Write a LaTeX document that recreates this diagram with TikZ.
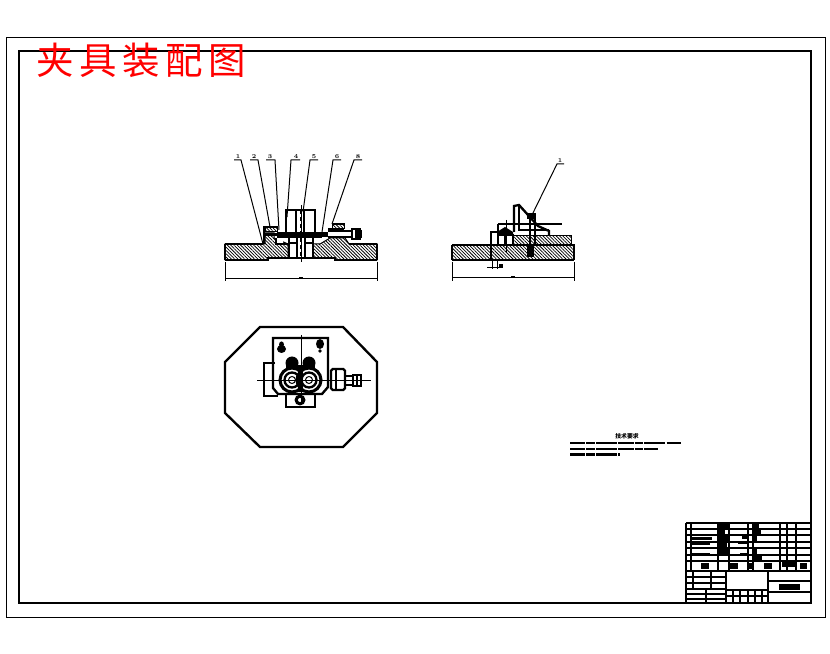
\documentclass[tikz,border=0pt]{standalone}
\usepackage{fontspec}
\newfontfamily\cjkfont{Noto Sans CJK SC}
\usetikzlibrary{patterns.meta}
\tikzset{
	thinline/.style={line width=0.85pt},
	heavyline/.style={line width=2pt},
	hatchfill/.style={pattern={Lines[angle=-45,distance=2pt,line width=0.65pt]}},
	partlabel/.style={font=\bfseries\fontsize{5}{5}\selectfont,inner sep=0.4pt,text=black},
	blurbar/.style={fill=black,draw=none},
	blurline/.style={line width=2.4pt,dash pattern=on 13pt off 1pt on 7pt off 1.2pt on 18pt off 1pt}
}
\begin{document}
\begin{tikzpicture}[x=0.03cm,y=-0.03cm]
	\useasboundingbox (0,0) rectangle (830,654);
	\fill[white] (0,0) rectangle (830,654);
	
	%%%%% FRAME %%%%%
	\draw[thinline] (6,38) rectangle (825,617);
	\draw[heavyline] (19,51) rectangle (811,603);
	\node[text=red,font=\cjkfont\fontsize{32}{32}\selectfont] (title) at (141,60) {\addfontfeature{LetterSpace=15}夹具装配图};
	
	%%%%% FRONT VIEW %%%%%
	\draw[thinline,hatchfill] (225,244) -- (265,244) -- (265,233) -- (274,233) -- (274,238) -- (288,244) -- (288,258) -- (268,258) -- (268,260) -- (225,260) -- cycle;
	\draw[thinline,hatchfill] (313,244) -- (320,244) -- (330,238) -- (345,238) -- (349,244) -- (377,244) -- (377,260) -- (335,260) -- (335,258) -- (313,258) -- cycle;
	\draw[heavyline] (225,244) -- (263,244);
	\draw[heavyline] (349,244) -- (377,244);
	\draw[heavyline] (225,244) -- (225,260);
	\draw[heavyline] (377,244) -- (377,260);
	\draw[heavyline] (225,260) -- (268,260) -- (268,258) -- (335,258) -- (335,260) -- (377,260);
	\draw[heavyline] (264,244) -- (264,227) -- (278,227);
	\fill[white] (276,238) rectangle (283,245);
	\draw[heavyline] (276,238) -- (276,244) -- (288,244);
	\draw[heavyline] (286,232) -- (286,210) -- (315,210) -- (315,232);
	\draw[heavyline] (296,210) -- (296,232);
	\draw[heavyline] (304,210) -- (304,232);
	\draw[thinline,dashed] (300,210) -- (300,258);
	\fill (277,232) rectangle (322,238);
	\fill (264,233) rectangle (278,236);
	\draw[thinline,hatchfill] (265,227) rectangle (277,232);
	\draw[heavyline] (289,238) -- (289,258);
	\draw[heavyline] (297,236) -- (297,258);
	\draw[heavyline] (305,236) -- (305,258);
	\draw[heavyline] (313,238) -- (313,258);
	\fill[white] (291,238) rectangle (295,243);
	\fill[white] (307,238) rectangle (311,243);
	\draw[heavyline] (288,243) -- (297,243);
	\draw[heavyline] (305,243) -- (313,243);
	\draw[thinline,hatchfill] (332,224) rectangle (344,229);
	\draw[heavyline] (332,224) -- (344,224);
	\draw[heavyline] (328,229) -- (344,229);
	\fill (322,232) rectangle (328,237);
	\draw[heavyline] (328,231) -- (352,231);
	\draw[heavyline] (328,237) -- (352,237);
	\draw[heavyline] (352,229) rectangle (360,239);
	\fill (355,230) rectangle (362,238);
	\draw[thinline] (301,205) -- (301,262);
	
	\draw[thinline] (225,262) -- (225,281);
	\draw[thinline] (377,262) -- (377,281);
	\draw[thinline] (225,279) -- (377,279);
	\fill[blurbar] (299,277) rectangle (303,279);
	
	\node[partlabel] (lab1) at (238,157) {1};
	\node[partlabel] (lab2) at (254,157) {2};
	\node[partlabel] (lab3) at (270,157) {3};
	\node[partlabel] (lab4) at (296,157) {4};
	\node[partlabel] (lab5) at (314,157) {5};
	\node[partlabel] (lab6) at (337,157) {6};
	\node[partlabel] (lab7) at (358,157) {8};
	\coordinate (tip1) at (263,244);
	\coordinate (tip2) at (270,227);
	\coordinate (tip3) at (279,230);
	\coordinate (tip4) at (287,217);
	\coordinate (tip5) at (303,212);
	\coordinate (tip6) at (322,232);
	\coordinate (tip7) at (332,224);
	\draw[thinline] (234,160) -- (241,160) -- (tip1);
	\draw[thinline] (250,160) -- (258,160) -- (tip2);
	\draw[thinline] (266,160) -- (275,160) -- (tip3);
	\draw[thinline] (300,160) -- (291,160) -- (tip4);
	\draw[thinline] (318,160) -- (310,160) -- (tip5);
	\draw[thinline] (341,160) -- (333,160) -- (tip6);
	\draw[thinline] (362,160) -- (354,160) -- (tip7);
	
	%%%%% SIDE VIEW %%%%%
	\draw[thinline,hatchfill] (452,245) rectangle (574,260);
	\draw[thinline,hatchfill] (513,236) rectangle (571,245);
	\draw[heavyline] (452,245) -- (574,245);
	\draw[heavyline] (452,260) -- (574,260);
	\draw[heavyline] (452,245) -- (452,260);
	\draw[heavyline] (574,245) -- (574,260);
	\draw[heavyline] (498,224) -- (562,224);
	\draw[heavyline] (498,224) -- (498,245);
	\draw[heavyline] (514,232) -- (514,206) -- (519,205) -- (538,226) -- (549,231) -- (549,236);
	\draw[heavyline] (519,205) -- (519,230) -- (549,230);
	\fill (497,232) -- (505,227) -- (513,232) -- (513,235) -- (497,235) -- cycle;
	\draw[heavyline] (498,235) rectangle (513,245);
	\draw[heavyline] (505,235) -- (505,245);
	\draw[heavyline] (530,214) -- (530,245);
	\draw[heavyline] (535,219) -- (535,245);
	\fill (527,245) rectangle (534,257);
	\fill (527,213) rectangle (536,219);
	\draw[heavyline] (497,232) -- (491,232) -- (491,260);
	\draw[thinline] (492,260) -- (492,269);
	\draw[thinline] (497,260) -- (497,269);
	\draw[thinline] (487,268) -- (502,268);
	\fill (499,264) rectangle (503,268);
	\draw[thinline] (506,220) -- (506,252);
	
	\draw[thinline] (452,262) -- (452,281);
	\draw[thinline] (574,262) -- (574,281);
	\draw[thinline] (452,278) -- (574,278);
	\fill[blurbar] (511,276) rectangle (515,278);
	
	\node[partlabel] (lab8) at (560,161) {1};
	\coordinate (tip8) at (531,217);
	\draw[thinline] (564,164) -- (557,164) -- (tip8);
	
	%%%%% PLAN VIEW %%%%%
	\draw[heavyline] (260,327) -- (343,327) -- (377,362) -- (377,413) -- (343,447) -- (260,447) -- (225,413) -- (225,362) -- cycle;
	\draw[heavyline] (273,338) -- (328,338) -- (328,387) -- (322,394) -- (278,394) -- (273,388) -- cycle;
	\draw[heavyline] (275,363) -- (264,363) -- (264,396) -- (278,396);
	\draw[heavyline] (286,394) -- (286,407) -- (315,407) -- (315,394);
	\fill (300,400) circle (5.5);
	\fill[white] (300,400) circle (2);
	\fill (281.5,349) ellipse (4.5 and 4);
	\fill (281.5,344.5) ellipse (2.5 and 3);
	\fill (320,344) ellipse (4 and 5);
	\fill (320,351) circle (1.8);
	\fill (292,363) circle (6.5);
	\fill (309,363) circle (6.5);
	\fill (286,365) rectangle (315,371);
	\foreach \cx in {292,309} {
		\draw[line width=2.6pt,fill=white] (\cx,380) circle (12);
		\draw[heavyline] (\cx,380) circle (7.5);
		\draw[thinline] (\cx,380) circle (3.5);
	}
	\fill (298,368) rectangle (303,392);
	\draw[heavyline,rounded corners=1.5pt] (331,369) rectangle (345,390);
	\draw[heavyline] (336,369) -- (336,390);
	\draw[heavyline] (345,376) -- (353,376) -- (353,385) -- (345,385);
	\draw[heavyline] (353,375) rectangle (361,386);
	\fill (356,375) rectangle (358,386);
	\draw[thinline] (301,335) -- (301,405);
	\draw[thinline] (257,380) -- (371,380);
	
	%%%%% NOTES %%%%%
	\node[font=\cjkfont\bfseries\fontsize{5}{5}\selectfont,inner sep=0pt] (notehead) at (627,436) {技术要求};
	\draw[blurline] (570,443) -- (681,443);
	\draw[blurline] (570,449) -- (658,449);
	\draw[blurline] (570,454.5) -- (620,454.5);
	
	%%%%% TITLE BLOCK %%%%%
	\draw[heavyline] (686,523) -- (686,603);
	\draw[heavyline] (686,523) -- (811,523);
	\foreach \ry in {529,535,542,548,555,561,571} {
		\draw[line width=1.2pt] (686,\ry) -- (811,\ry);
	}
	\foreach \cx in {691,718,729,748,753,780,787,796} {
		\draw[heavyline] (\cx,523) -- (\cx,571);
	}
	\fill[blurbar] (718,524) rectangle (729,528);
	\fill[blurbar] (718,530) rectangle (725,534);
	\fill[blurbar] (718,536) rectangle (729,541);
	\fill[blurbar] (718,543) rectangle (727,547);
	\fill[blurbar] (718,549) rectangle (729,554);
	\fill[blurbar] (692,537) rectangle (712,540);
	\fill[blurbar] (692,542) rectangle (710,545);
	\fill[blurbar] (692,553) rectangle (710,556);
	\fill[blurbar] (742,535) rectangle (748,539);
	\fill[blurbar] (738,541) rectangle (748,544);
	\fill[blurbar] (740,553) rectangle (748,556);
	\fill[blurbar] (753,524) rectangle (759,528);
	\fill[blurbar] (753,530) rectangle (761,534);
	\fill[blurbar] (753,536) rectangle (757,541);
	\fill[blurbar] (753,549) rectangle (757,554);
	\fill[blurbar] (753,556) rectangle (762,560);
	\fill[blurbar] (701,563) rectangle (709,569);
	\fill[blurbar] (730,563) rectangle (738,569);
	\fill[blurbar] (749,563) rectangle (752,569);
	\fill[blurbar] (764,563) rectangle (772,569);
	\fill[blurbar] (782,561) rectangle (795,567);
	\fill[blurbar] (800,563) rectangle (807,569);
	
	\draw[heavyline] (726,571) -- (726,603);
	\draw[heavyline] (768,571) -- (768,603);
	\draw[heavyline] (726,590) -- (768,590);
	\draw[heavyline] (768,581) -- (811,581);
	\draw[heavyline] (768,592) -- (811,592);
	\foreach \ry in {577,583,589,594,599} {
		\draw[heavyline] (686,\ry) -- (726,\ry);
	}
	\foreach \cx in {693,711} {
		\draw[heavyline] (\cx,571) -- (\cx,589);
	}
	\draw[heavyline] (706,589) -- (706,603);
	\foreach \cx in {733,740,748,755,762} {
		\draw[heavyline] (\cx,590) -- (\cx,603);
	}
	\draw[heavyline] (726,596) -- (768,596);
	\fill[blurbar] (779,584) rectangle (800,590);
	
	%%%%% END %%%%%
\end{tikzpicture}
\end{document}
